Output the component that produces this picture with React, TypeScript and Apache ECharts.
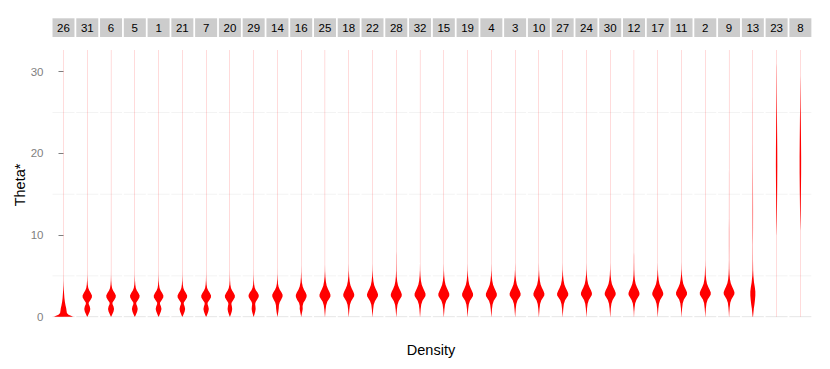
import React, { useEffect, useRef } from "react";
import * as echarts from "echarts";

// Facet labels, left to right
const facetLabels = ["26","31","6","5","1","21","7","20","29","14","16","25","18","22","28","32","15","19","4","3","10","27","24","30","12","17","11","2","9","13","23","8"];
const yTicks = [0, 10, 20, 30];
const gridLines = [0, 5, 15, 25];

// Violin profiles per facet: [theta, half-density]
const p26 = [[0,9.5],[0.12,7.5],[0.25,5],[0.45,3.4],[0.75,3.0],[1.05,2.7],[1.4,2.0],[1.8,1.4],[2.3,0.9],[2.8,0.6],[3.3,0.35],[3.8,0.2],[4.4,0.1],[5.2,0.07],[32.66,0.07]];
const p31 = [[0,0.07],[0.1,0.5],[0.35,1.5],[0.65,2.5],[0.95,3.0],[1.25,2.5],[1.55,1.4],[1.75,1.5],[2.05,3.2],[2.35,4.6],[2.6,4.7],[2.9,3.5],[3.2,2.0],[3.5,1.0],[3.9,0.5],[4.4,0.22],[5.0,0.1],[5.8,0.07],[32.66,0.07]];
const p6 = [[0,0.07],[0.1,0.5],[0.35,1.5],[0.65,2.5],[0.95,3.0],[1.25,2.5],[1.55,1.4],[1.75,1.5],[2.05,3.2],[2.35,4.6],[2.6,4.8],[2.9,3.6],[3.2,2.0],[3.5,1.0],[3.9,0.5],[4.4,0.22],[5.0,0.1],[5.8,0.07],[32.66,0.07]];
const p5 = [[0,0.07],[0.1,0.5],[0.35,1.5],[0.65,2.4],[0.95,2.9],[1.25,2.4],[1.55,1.4],[1.75,1.5],[2.05,3.2],[2.35,4.6],[2.6,4.8],[2.9,3.6],[3.2,2.0],[3.5,1.0],[3.9,0.5],[4.4,0.22],[5.0,0.1],[5.8,0.07],[32.66,0.07]];
const p1 = [[0,0.07],[0.1,0.5],[0.35,1.4],[0.65,2.3],[0.95,2.9],[1.25,2.4],[1.55,1.4],[1.75,1.5],[2.05,3.2],[2.35,4.7],[2.6,4.8],[2.9,3.6],[3.2,2.0],[3.5,1.0],[3.9,0.5],[4.4,0.22],[5.0,0.1],[5.8,0.07],[32.66,0.07]];
const p21 = [[0,0.07],[0.1,0.5],[0.35,1.4],[0.65,2.3],[0.95,2.8],[1.25,2.3],[1.55,1.4],[1.75,1.5],[2.05,3.2],[2.35,4.7],[2.6,4.8],[2.9,3.6],[3.2,2.0],[3.5,1.0],[3.9,0.5],[4.4,0.22],[5.0,0.1],[5.8,0.07],[32.66,0.07]];
const p7 = [[0,0.07],[0.1,0.5],[0.35,1.4],[0.65,2.2],[0.95,2.7],[1.25,2.2],[1.55,1.4],[1.75,1.6],[2.05,3.3],[2.35,4.8],[2.6,4.9],[2.9,3.7],[3.2,2.1],[3.5,1.0],[3.9,0.5],[4.4,0.22],[5.0,0.1],[5.8,0.07],[32.66,0.07]];
const p20 = [[0,0.07],[0.1,0.4],[0.35,1.2],[0.65,1.9],[0.95,2.3],[1.25,2.0],[1.55,1.5],[1.75,1.8],[2.05,3.4],[2.35,4.9],[2.6,5.0],[2.9,3.8],[3.2,2.2],[3.5,1.1],[3.9,0.5],[4.4,0.22],[5.0,0.1],[5.8,0.07],[32.66,0.07]];
const p29 = [[0,0.07],[0.1,0.35],[0.35,1.0],[0.65,1.6],[0.95,2.0],[1.25,1.8],[1.55,1.5],[1.8,2.0],[2.1,3.6],[2.4,5.0],[2.65,5.1],[2.95,3.9],[3.25,2.2],[3.55,1.1],[3.95,0.5],[4.5,0.22],[5.1,0.1],[5.9,0.07],[32.66,0.07]];
const p14 = [[0,0.07],[0.2,0.35],[0.6,0.9],[1.0,1.3],[1.4,1.5],[1.75,2.2],[2.1,3.8],[2.45,5.1],[2.7,5.2],[3.0,4.0],[3.3,2.4],[3.65,1.2],[4.05,0.55],[4.6,0.25],[5.2,0.1],[6.0,0.07],[32.66,0.07]];
const p16 = [[0,0.07],[0.2,0.35],[0.6,1.0],[0.95,1.5],[1.3,1.4],[1.7,2.2],[2.05,4.0],[2.4,5.3],[2.65,5.4],[2.95,4.4],[3.3,2.8],[3.7,1.5],[4.2,0.7],[4.8,0.3],[5.5,0.12],[6.3,0.07],[32.66,0.07]];
const p25 = [[0,0.07],[0.3,0.25],[0.85,0.6],[1.4,1.2],[1.85,2.4],[2.2,4.2],[2.45,5.4],[2.7,5.5],[3.0,4.6],[3.4,3.0],[3.8,1.7],[4.3,0.9],[4.9,0.4],[5.6,0.15],[6.4,0.07],[32.66,0.07]];
const p18 = [[0,0.07],[0.3,0.25],[0.85,0.6],[1.45,1.2],[1.9,2.4],[2.25,4.2],[2.5,5.4],[2.75,5.5],[3.05,4.6],[3.45,3.0],[3.85,1.7],[4.35,0.9],[4.95,0.4],[5.65,0.15],[6.5,0.07],[32.66,0.07]];
const p22 = [[0,0.07],[0.3,0.25],[0.85,0.6],[1.45,1.2],[1.9,2.4],[2.25,4.2],[2.5,5.4],[2.75,5.5],[3.05,4.6],[3.45,3.0],[3.85,1.7],[4.35,0.9],[4.95,0.4],[5.65,0.15],[6.5,0.07],[32.66,0.07]];
const p28 = [[0,0.07],[0.3,0.25],[0.85,0.6],[1.45,1.2],[1.9,2.4],[2.25,4.2],[2.5,5.4],[2.75,5.5],[3.05,4.6],[3.45,3.0],[3.85,1.7],[4.35,0.9],[4.95,0.4],[5.65,0.2],[6.5,0.15],[7.5,0.12],[8.0,0.07],[32.66,0.07]];
const p32 = [[0,0.07],[0.3,0.25],[0.9,0.6],[1.5,1.2],[1.95,2.4],[2.3,4.2],[2.55,5.4],[2.8,5.5],[3.1,4.6],[3.5,3.0],[3.9,1.7],[4.4,0.9],[5.0,0.4],[5.7,0.15],[6.5,0.07],[32.66,0.07]];
const p15 = [[0,0.07],[0.3,0.25],[0.9,0.6],[1.5,1.2],[1.95,2.4],[2.3,4.2],[2.55,5.4],[2.8,5.5],[3.1,4.6],[3.5,3.0],[3.9,1.7],[4.4,0.9],[5.0,0.4],[5.7,0.15],[6.5,0.07],[32.66,0.07]];
const p19 = [[0,0.07],[0.3,0.25],[0.9,0.6],[1.5,1.2],[1.95,2.4],[2.3,4.2],[2.55,5.4],[2.8,5.5],[3.1,4.6],[3.5,3.0],[3.9,1.7],[4.4,0.9],[5.0,0.4],[5.7,0.15],[6.5,0.07],[32.66,0.07]];
const p4 = [[0,0.07],[0.3,0.25],[0.9,0.6],[1.5,1.2],[1.95,2.4],[2.3,4.2],[2.55,5.4],[2.8,5.5],[3.1,4.6],[3.5,3.0],[3.9,1.7],[4.4,0.9],[5.0,0.4],[5.7,0.15],[6.5,0.07],[32.66,0.07]];
const p3 = [[0,0.07],[0.35,0.25],[0.95,0.6],[1.55,1.2],[2.0,2.4],[2.35,4.2],[2.6,5.4],[2.85,5.5],[3.15,4.6],[3.55,3.0],[3.95,1.7],[4.45,0.9],[5.05,0.4],[5.75,0.15],[6.6,0.07],[32.66,0.07]];
const p10 = [[0,0.07],[0.35,0.25],[0.95,0.6],[1.55,1.2],[2.0,2.4],[2.35,4.2],[2.6,5.4],[2.85,5.5],[3.15,4.6],[3.55,3.0],[3.95,1.7],[4.45,0.9],[5.05,0.4],[5.75,0.15],[6.6,0.07],[32.66,0.07]];
const p27 = [[0,0.07],[0.35,0.25],[0.95,0.6],[1.55,1.2],[2.0,2.4],[2.35,4.2],[2.6,5.5],[2.85,5.6],[3.15,4.6],[3.55,3.0],[3.95,1.7],[4.45,0.9],[5.05,0.4],[5.75,0.15],[6.6,0.07],[32.66,0.07]];
const p24 = [[0,0.07],[0.4,0.25],[1.0,0.6],[1.6,1.2],[2.05,2.4],[2.4,4.2],[2.65,5.4],[2.9,5.5],[3.2,4.6],[3.6,3.0],[4.0,1.7],[4.5,0.9],[5.1,0.4],[5.8,0.15],[6.6,0.07],[32.66,0.07]];
const p30 = [[0,0.07],[0.4,0.25],[1.0,0.6],[1.6,1.2],[2.05,2.4],[2.4,4.2],[2.65,5.4],[2.9,5.5],[3.2,4.6],[3.6,3.0],[4.0,1.7],[4.5,0.9],[5.1,0.4],[5.8,0.15],[6.6,0.07],[32.66,0.07]];
const p12 = [[0,0.07],[0.6,0.25],[1.1,0.6],[1.65,1.2],[2.05,2.4],[2.4,4.2],[2.65,5.4],[2.9,5.5],[3.2,4.6],[3.6,3.0],[4.0,1.7],[4.5,0.9],[5.1,0.45],[5.8,0.25],[6.6,0.18],[7.5,0.14],[7.9,0.07],[32.66,0.07]];
const p17 = [[0,0.07],[0.4,0.25],[1.0,0.6],[1.6,1.2],[2.05,2.4],[2.4,4.2],[2.65,5.4],[2.9,5.5],[3.2,4.6],[3.6,3.0],[4.0,1.7],[4.5,0.9],[5.1,0.4],[5.8,0.15],[6.6,0.07],[32.66,0.07]];
const p11 = [[0,0.07],[0.45,0.25],[1.05,0.6],[1.65,1.2],[2.1,2.4],[2.45,4.2],[2.7,5.4],[2.95,5.5],[3.25,4.6],[3.65,3.0],[4.05,1.7],[4.55,0.9],[5.15,0.4],[5.85,0.15],[6.7,0.07],[32.66,0.07]];
const p2 = [[0,0.07],[0.45,0.25],[1.05,0.6],[1.65,1.2],[2.1,2.4],[2.45,4.2],[2.7,5.4],[2.95,5.5],[3.25,4.6],[3.65,3.0],[4.05,1.7],[4.55,0.9],[5.15,0.45],[5.85,0.25],[6.3,0.12],[7.0,0.07],[32.66,0.07]];
const p9 = [[0,0.07],[0.5,0.25],[1.1,0.6],[1.7,1.2],[2.15,2.4],[2.5,4.2],[2.75,5.3],[3.0,5.4],[3.3,4.5],[3.7,3.0],[4.1,1.7],[4.6,0.9],[5.2,0.45],[5.9,0.22],[7.0,0.12],[8.5,0.15],[10.6,0.15],[12.0,0.1],[17.5,0.09],[18.0,0.07],[32.66,0.07]];
const p13 = [[0,0.2],[0.5,0.6],[1.0,1.0],[1.5,1.6],[2.0,2.1],[2.6,2.5],[3.1,2.5],[3.6,2.0],[4.2,1.2],[5.0,0.55],[5.7,0.3],[7.0,0.16],[8.8,0.12],[9.5,0.16],[11.0,0.22],[13.0,0.24],[15.0,0.2],[17.0,0.16],[18.5,0.12],[21.0,0.1],[26.0,0.09],[27.0,0.07],[32.66,0.07]];
const p23 = [[0,0.07],[9.9,0.07],[10.2,0.12],[11.5,0.25],[14.0,0.45],[16.5,0.62],[18.5,0.72],[20.5,0.66],[23.0,0.48],[25.5,0.32],[27.5,0.22],[30.5,0.12],[31.0,0.07],[32.66,0.07]];
const p8 = [[0,0.07],[10.5,0.07],[10.8,0.12],[12.3,0.3],[15.0,0.55],[17.5,0.75],[19.5,0.78],[21.5,0.65],[24.0,0.45],[25.6,0.3],[28.9,0.12],[29.5,0.07],[32.66,0.07]];

const profiles = [p26,p31,p6,p5,p1,p21,p7,p20,p29,p14,p16,p25,p18,p22,p28,p32,p15,p19,p4,p3,p10,p27,p24,p30,p12,p17,p11,p2,p9,p13,p23,p8];

const FONT = "'Liberation Sans', Arial, Helvetica, sans-serif";
const LEFT0 = 52.5;
const STEP = 23.77;
const PW = 22;
const TOP = 37;
const PH = 279.7;
const YMAX = 34.25;
const XHALF = 11;
const GREY = "#7f7f7f";

export default function App() {
  const ref = useRef<HTMLDivElement>(null);
  useEffect(() => {
    if (!ref.current) return;
    const chart = echarts.init(ref.current, null, { renderer: "svg" });
    const grids: any[] = [];
    const xAxes: any[] = [];
    const yAxes: any[] = [];
    const series: any[] = [];
    const graphics: any[] = [];
    facetLabels.forEach((lab, i) => {
      const left = LEFT0 + STEP * i;
      grids.push({ left, top: TOP, width: PW, height: PH });
      xAxes.push({ type: "value", gridIndex: i, min: -XHALF, max: XHALF, show: false });
      if (i === 0) {
        yAxes.push({
          type: "value",
          min: 0,
          max: YMAX,
          interval: 10,
          axisLine: { show: false, lineStyle: { color: GREY } },
          splitLine: { show: false },
          axisTick: { show: true, length: 5, customValues: yTicks, lineStyle: { color: GREY } },
          axisLabel: {
            showMaxLabel: false,
            margin: 9,
            color: GREY,
            fontSize: 11.5,
            fontFamily: FONT,
            formatter: (v: number) => (yTicks.indexOf(v) >= 0 ? "{g|" + v + "}" : ""),
            rich: { g: { color: GREY, fontSize: 11.5, fontFamily: FONT } },
          },
        });
      } else {
        yAxes.push({ type: "value", gridIndex: i, min: 0, max: YMAX, show: false });
      }
      series.push({
        type: "custom",
        xAxisIndex: i,
        yAxisIndex: i,
        z: 1,
        silent: true,
        data: gridLines.map((v) => [0, v]),
        renderItem: (params: any, api: any) => {
          const v = api.value(1);
          const a = api.coord([-XHALF, v]);
          const b = api.coord([XHALF, v]);
          return {
            type: "line",
            shape: { x1: a[0], y1: a[1], x2: b[0], y2: b[1] },
            style: { stroke: v === 0 ? "#e6e6e6" : "#f3f3f3", lineWidth: 1 },
          };
        },
      });
      const prof = profiles[i];
      series.push({
        type: "custom",
        xAxisIndex: i,
        yAxisIndex: i,
        z: 2,
        silent: true,
        data: prof.map(([t, w]) => [w, t]),
        renderItem: (params: any, api: any) => {
          if (params.dataIndex !== 0) return null;
          const right = prof.map(([t, w]) => api.coord([w, t]));
          const leftSide = prof.slice().reverse().map(([t, w]) => api.coord([-w, t]));
          return {
            type: "polygon",
            shape: { points: right.concat(leftSide) },
            style: { fill: "#ff0000", stroke: null },
          };
        },
      });
      graphics.push({
        type: "rect",
        shape: { x: left, y: 18.3, width: PW, height: 18.7 },
        style: { fill: "#cccccc" },
        silent: true,
      });
      graphics.push({
        type: "text",
        x: left + PW / 2,
        y: 27.8,
        style: { text: lab, fill: "#000000", fontSize: 11.5, fontFamily: FONT, align: "center", verticalAlign: "middle", textAlign: "center", textVerticalAlign: "middle" },
        silent: true,
      });
    });
    graphics.push({
      type: "text",
      x: 20,
      y: 185,
      rotation: Math.PI / 2,
      style: { text: "Theta*", fill: "#000000", fontSize: 14.5, fontFamily: FONT, align: "center", verticalAlign: "middle", textAlign: "center", textVerticalAlign: "middle" },
      silent: true,
    });
    graphics.push({
      type: "text",
      x: 431,
      y: 350,
      style: { text: "Density", fill: "#000000", fontSize: 14.5, fontFamily: FONT, align: "center", verticalAlign: "middle", textAlign: "center", textVerticalAlign: "middle" },
      silent: true,
    });
    chart.setOption({
      animation: false,
      backgroundColor: "#ffffff",
      grid: grids,
      xAxis: xAxes,
      yAxis: yAxes,
      series,
      graphic: graphics,
    });
    return () => chart.dispose();
  }, []);
  return <div ref={ref} style={{ position: "fixed", left: 0, top: 0, width: 830, height: 369 }} />;
}
